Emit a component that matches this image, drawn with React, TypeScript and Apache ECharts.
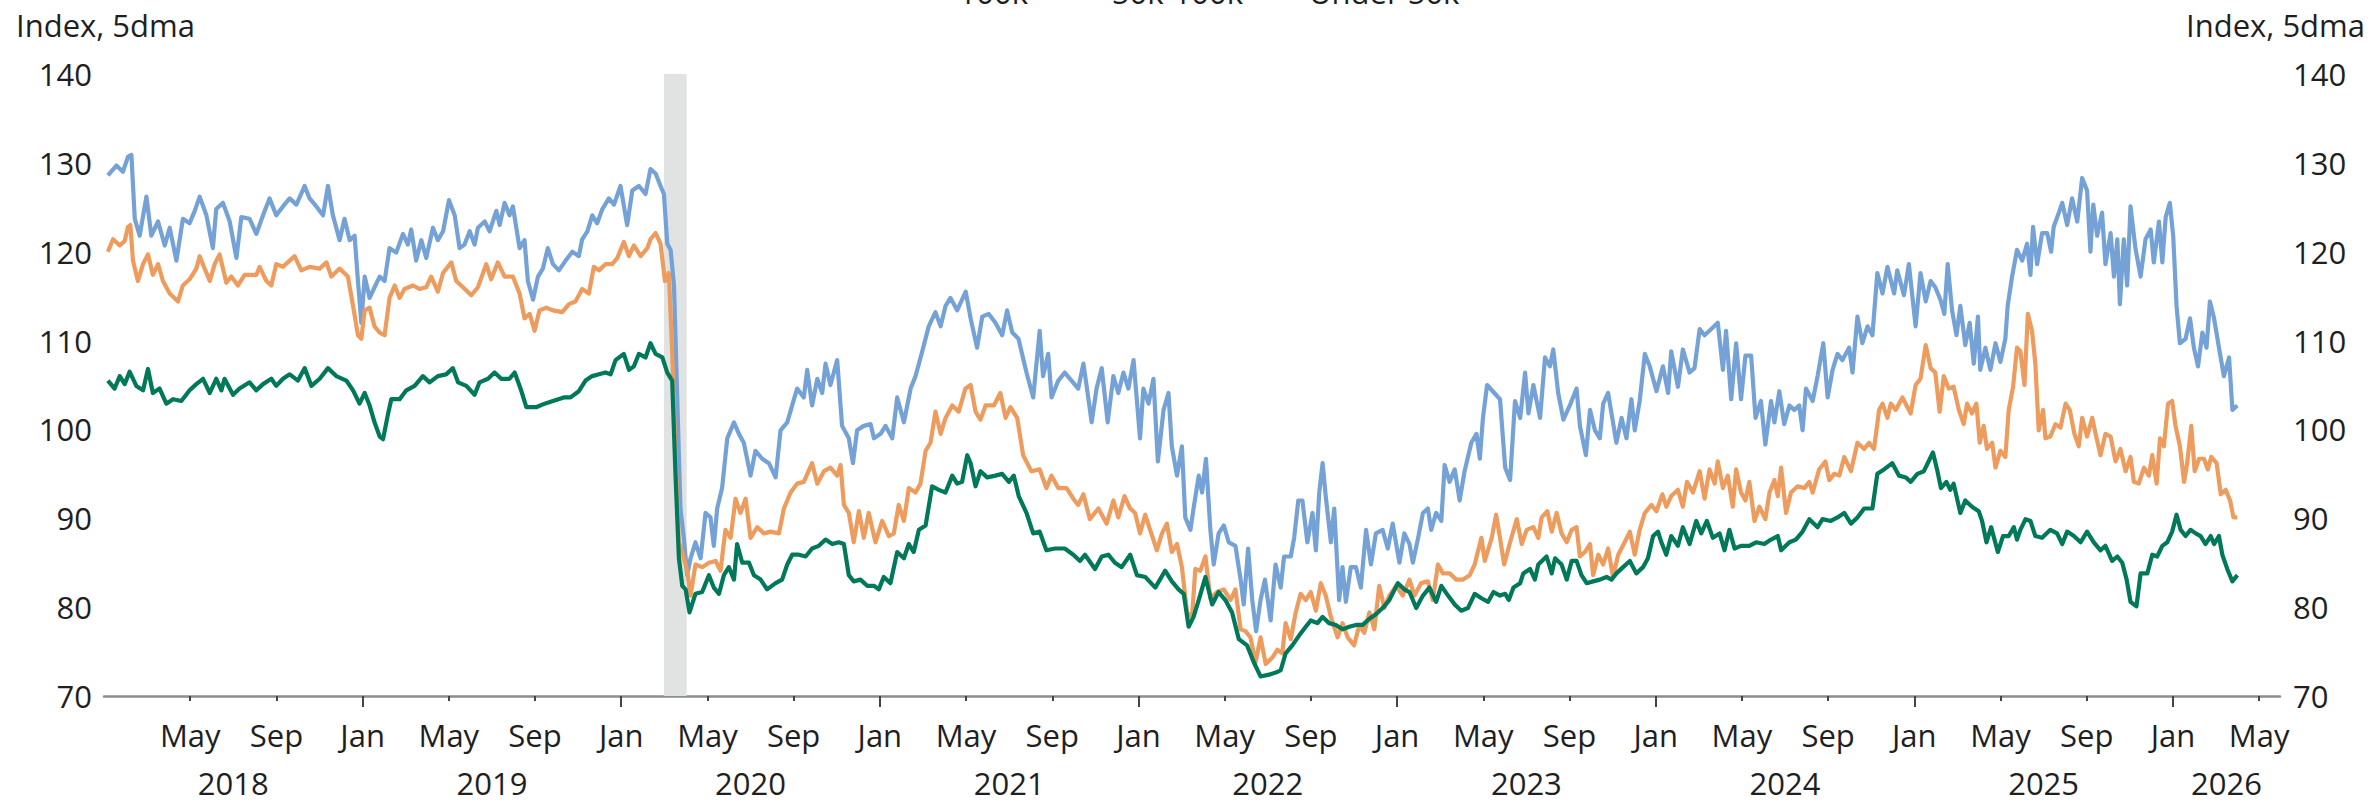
import React, { useEffect, useRef } from "react";
import * as echarts from "echarts";

// ---- axis ranges (decimal years on x) ----
const X_MIN = 2018;
const X_MAX = 2026.414;
const Y_MIN = 70;
const Y_MAX = 140;
const Y_STEP = 10;

const seriesNames = ["100k+", "50k-100k", "Under 50k"];
const seriesColors = ["#74A2D6", "#EE9B5E", "#00785A"];
const axisTitle = "Index, 5dma";
const recessionSpan = [2020.165, 2020.253];
const yearLabels = [2018, 2019, 2020, 2021, 2022, 2023, 2024, 2025, 2026];
const monthNames = ["Jan", "May", "Sep"];

// ---- series values: [decimal year, index] ----
const income100kPlus: [number, number][] = [
  [2018.015,128.6],[2018.048,129.7],[2018.073,129.0],[2018.093,130.7],[2018.106,130.9],[2018.119,123.7],[2018.138,121.8],[2018.164,126.2],[2018.183,121.8],[2018.209,123.4],[2018.235,120.7],[2018.254,122.7],[2018.280,119.0],[2018.305,123.7],[2018.331,123.2],[2018.351,124.6],[2018.370,126.2],[2018.396,124.1],[2018.421,120.4],[2018.434,124.8],[2018.460,125.5],[2018.486,123.4],[2018.512,119.3],[2018.531,123.9],[2018.563,123.7],[2018.589,122.0],[2018.615,124.1],[2018.640,126.0],[2018.666,124.1],[2018.692,125.1],[2018.718,126.0],[2018.744,125.3],[2018.776,127.4],[2018.795,126.0],[2018.821,125.1],[2018.847,124.1],[2018.866,127.4],[2018.885,124.1],[2018.911,121.3],[2018.930,123.7],[2018.950,121.3],[2018.969,121.8],[2018.982,116.7],[2018.995,112.0],
  [2019.008,117.2],[2019.027,114.8],[2019.046,116.0],[2019.066,117.2],[2019.085,116.7],[2019.104,120.4],[2019.130,119.9],[2019.156,122.0],[2019.175,120.8],[2019.188,122.5],[2019.207,119.0],[2019.227,121.3],[2019.246,119.3],[2019.272,122.7],[2019.291,121.3],[2019.311,122.3],[2019.334,125.8],[2019.356,124.1],[2019.375,120.4],[2019.394,120.8],[2019.414,122.3],[2019.433,120.8],[2019.446,122.7],[2019.472,123.4],[2019.491,122.3],[2019.517,124.6],[2019.530,123.0],[2019.549,125.5],[2019.568,124.1],[2019.581,125.1],[2019.607,120.4],[2019.626,121.3],[2019.639,116.7],[2019.659,114.6],[2019.678,117.2],[2019.697,118.1],[2019.716,120.4],[2019.736,118.6],
  [2019.759,117.9],[2019.785,119.0],[2019.811,120.0],[2019.836,119.5],[2019.849,121.4],[2019.869,122.3],[2019.888,124.1],[2019.907,123.2],[2019.927,124.8],[2019.952,126.0],[2019.972,125.3],[2019.997,127.4],
  [2020.023,123.0],[2020.043,126.9],[2020.068,127.4],[2020.094,126.5],[2020.113,129.3],[2020.133,128.8],[2020.152,127.4],[2020.165,126.5],[2020.178,120.9],[2020.191,120.2],[2020.204,116.2],[2020.216,104.1],[2020.229,91.1],[2020.242,87.8],[2020.255,83.6],[2020.268,85.5],[2020.287,87.3],[2020.307,85.5],[2020.326,90.6],[2020.345,90.1],[2020.358,86.9],[2020.371,91.1],[2020.390,93.4],[2020.410,99.0],[2020.436,100.8],[2020.455,99.5],[2020.474,98.5],[2020.500,94.8],[2020.519,97.6],[2020.545,96.7],[2020.571,96.2],[2020.597,94.6],[2020.616,99.9],[2020.642,100.8],[2020.661,102.7],[2020.680,104.6],[2020.706,103.6],[2020.719,106.7],[2020.738,102.7],[2020.758,105.7],[2020.777,104.1],[2020.790,107.4],[2020.809,105.0],[2020.835,107.8],[2020.854,100.4],[2020.880,99.0],[2020.896,96.2],[2020.912,99.9],[2020.938,100.4],[2020.964,100.6],[2020.977,99.0],
  [2021.003,99.5],[2021.022,100.4],[2021.048,99.0],[2021.067,103.6],[2021.093,100.8],[2021.119,104.6],[2021.138,106.0],[2021.164,108.8],[2021.189,111.6],[2021.215,113.2],[2021.235,111.6],[2021.254,113.9],[2021.273,114.8],[2021.299,113.4],[2021.332,115.5],[2021.351,112.5],[2021.376,109.2],[2021.396,112.7],[2021.421,113.0],[2021.447,112.0],[2021.473,110.6],[2021.492,113.4],[2021.512,110.9],[2021.536,110.2],[2021.567,106.4],[2021.593,103.6],[2021.618,111.1],[2021.631,106.0],[2021.651,108.5],[2021.664,103.6],[2021.690,105.5],[2021.715,106.4],[2021.741,105.5],[2021.767,104.6],[2021.787,107.4],[2021.799,105.0],[2021.819,100.8],[2021.838,104.6],[2021.858,106.9],[2021.881,100.8],[2021.903,106.0],[2021.922,104.1],[2021.942,106.4],[2021.961,104.6],[2021.981,107.8],
  [2022.006,99.0],[2022.019,104.6],[2022.039,102.9],[2022.058,105.7],[2022.075,96.4],[2022.097,102.2],[2022.116,104.1],[2022.129,98.1],[2022.149,94.8],[2022.168,98.1],[2022.181,90.1],[2022.201,88.7],[2022.213,91.1],[2022.233,94.8],[2022.246,92.9],[2022.261,96.7],[2022.278,88.7],[2022.291,84.8],[2022.310,88.3],[2022.330,89.2],[2022.349,87.3],[2022.375,86.9],[2022.395,83.1],[2022.407,80.3],[2022.424,86.6],[2022.440,80.8],[2022.455,77.3],[2022.472,80.8],[2022.489,83.1],[2022.511,78.5],[2022.530,84.8],[2022.550,82.2],[2022.563,85.7],[2022.589,85.7],[2022.602,87.8],[2022.618,92.0],[2022.634,92.0],[2022.653,87.3],[2022.673,90.6],[2022.686,86.4],[2022.699,92.9],[2022.712,96.2],[2022.724,92.5],[2022.744,87.3],[2022.757,91.1],[2022.776,80.8],[2022.789,84.5],[2022.802,80.6],[2022.821,84.5],[2022.841,84.5],[2022.860,82.2],[2022.880,88.7],[2022.899,84.8],[2022.918,88.3],[2022.944,88.7],[2022.964,86.6],[2022.983,89.4],
  [2023.009,85.0],[2023.028,88.3],[2023.048,87.1],[2023.061,85.0],[2023.080,87.6],[2023.100,90.6],[2023.119,91.1],[2023.132,88.7],[2023.151,90.6],[2023.171,89.7],[2023.184,96.0],[2023.203,94.1],[2023.223,95.5],[2023.242,92.0],[2023.261,95.3],[2023.287,98.5],[2023.307,99.5],[2023.320,96.7],[2023.332,101.3],[2023.348,105.0],[2023.398,103.4],[2023.418,95.7],[2023.437,94.3],[2023.456,103.2],[2023.476,101.3],[2023.495,106.4],[2023.508,101.8],[2023.527,105.0],[2023.553,101.3],[2023.572,108.1],[2023.591,107.1],[2023.604,109.0],[2023.623,104.1],[2023.643,101.1],[2023.668,102.7],[2023.694,104.6],[2023.707,100.4],[2023.730,97.1],[2023.746,102.2],[2023.765,99.9],[2023.784,99.0],[2023.797,102.9],[2023.816,104.1],[2023.848,98.5],[2023.868,101.3],[2023.887,99.0],[2023.906,103.4],[2023.919,99.9],[2023.938,103.2],[2023.958,108.5],[2023.977,107.1],
  [2024.003,104.3],[2024.028,107.1],[2024.048,104.1],[2024.060,108.8],[2024.086,104.8],[2024.105,109.0],[2024.131,106.4],[2024.150,106.9],[2024.170,111.3],[2024.189,110.6],[2024.215,111.3],[2024.240,112.0],[2024.260,106.7],[2024.272,111.1],[2024.292,103.4],[2024.311,109.7],[2024.330,103.4],[2024.347,108.3],[2024.369,108.3],[2024.386,101.3],[2024.407,103.2],[2024.424,98.3],[2024.446,103.2],[2024.459,100.8],[2024.478,104.3],[2024.497,100.6],[2024.517,102.7],[2024.536,102.2],[2024.555,102.7],[2024.568,99.9],[2024.581,104.6],[2024.607,103.2],[2024.626,106.0],[2024.648,109.7],[2024.665,103.6],[2024.684,106.7],[2024.703,108.5],[2024.722,107.8],[2024.748,109.2],[2024.761,106.4],[2024.780,112.7],[2024.799,109.7],[2024.819,111.6],[2024.838,110.6],[2024.857,117.6],[2024.877,115.3],[2024.896,118.3],[2024.922,115.3],[2024.934,117.9],[2024.960,115.1],[2024.979,118.6],
  [2025.005,111.6],[2025.024,117.6],[2025.044,114.4],[2025.063,116.7],[2025.081,116.0],[2025.101,114.6],[2025.116,113.0],[2025.129,118.6],[2025.146,113.4],[2025.163,110.6],[2025.178,113.9],[2025.197,109.5],[2025.214,112.0],[2025.230,107.4],[2025.246,112.7],[2025.255,106.7],[2025.275,109.2],[2025.294,106.7],[2025.314,109.7],[2025.333,107.6],[2025.352,110.2],[2025.361,113.9],[2025.378,117.2],[2025.397,120.2],[2025.417,119.0],[2025.436,120.9],[2025.449,117.4],[2025.459,122.8],[2025.475,118.6],[2025.494,122.1],[2025.514,122.1],[2025.529,120.0],[2025.539,122.8],[2025.559,124.4],[2025.572,125.5],[2025.591,123.0],[2025.610,126.0],[2025.630,123.4],[2025.649,128.3],[2025.668,126.9],[2025.681,120.0],[2025.692,125.3],[2025.707,121.8],[2025.726,124.4],[2025.739,118.6],[2025.759,122.1],[2025.772,117.2],[2025.785,121.4],[2025.795,114.1],[2025.810,121.4],[2025.823,116.2],[2025.836,125.1],[2025.855,120.4],[2025.875,117.2],[2025.894,121.4],[2025.914,122.5],[2025.926,118.8],[2025.946,123.4],[2025.959,118.8],[2025.972,123.9],[2025.988,125.5],
  [2026.001,121.8],[2026.014,113.9],[2026.027,109.7],[2026.049,110.2],[2026.066,112.5],[2026.081,109.2],[2026.097,107.1],[2026.114,110.9],[2026.130,109.2],[2026.143,114.4],[2026.159,112.5],[2026.178,109.2],[2026.197,106.0],[2026.217,108.1],[2026.230,102.2],[2026.249,102.7],
];

const income50kTo100k: [number, number][] = [
  [2018.015,120.0],[2018.035,121.4],[2018.061,120.7],[2018.080,121.2],[2018.093,122.8],[2018.102,123.0],[2018.112,119.0],[2018.131,116.7],[2018.151,118.6],[2018.170,119.7],[2018.189,117.4],[2018.209,118.6],[2018.228,116.7],[2018.254,115.3],[2018.286,114.4],[2018.305,116.2],[2018.331,116.9],[2018.357,118.1],[2018.370,119.5],[2018.389,118.1],[2018.409,116.7],[2018.428,118.6],[2018.447,119.7],[2018.473,116.5],[2018.492,117.2],[2018.518,116.2],[2018.544,117.4],[2018.589,117.4],[2018.602,118.3],[2018.628,116.7],[2018.647,116.2],[2018.666,118.6],[2018.692,118.3],[2018.718,119.0],[2018.737,119.5],[2018.763,117.9],[2018.795,118.3],[2018.834,118.1],[2018.860,118.8],[2018.879,117.2],[2018.911,118.1],[2018.943,117.2],[2018.963,113.9],[2018.982,110.6],[2018.995,110.2],
  [2019.008,113.4],[2019.027,113.7],[2019.046,111.6],[2019.066,110.9],[2019.085,110.6],[2019.104,114.8],[2019.124,116.2],[2019.143,114.8],[2019.162,115.8],[2019.195,116.2],[2019.220,115.8],[2019.246,116.0],[2019.265,117.2],[2019.291,115.5],[2019.311,117.6],[2019.343,118.8],[2019.362,116.7],[2019.388,116.0],[2019.420,115.1],[2019.446,116.0],[2019.478,118.6],[2019.497,116.9],[2019.523,118.8],[2019.549,117.2],[2019.581,117.2],[2019.607,115.3],[2019.626,112.5],[2019.646,113.0],[2019.665,111.1],[2019.684,113.4],[2019.710,113.7],[2019.736,113.4],
  [2019.772,113.2],[2019.798,114.1],[2019.823,114.4],[2019.849,115.8],[2019.875,115.3],[2019.894,118.3],[2019.914,117.9],[2019.939,118.6],[2019.965,118.6],[2019.985,119.3],
  [2020.010,121.1],[2020.030,119.5],[2020.049,120.7],[2020.075,119.5],[2020.101,120.4],[2020.113,121.4],[2020.133,122.1],[2020.152,120.9],[2020.169,116.7],[2020.184,117.6],[2020.197,108.8],[2020.210,97.1],[2020.223,87.3],[2020.236,86.2],[2020.255,84.1],[2020.268,81.3],[2020.287,84.8],[2020.313,84.5],[2020.339,85.0],[2020.365,85.2],[2020.384,84.1],[2020.403,88.7],[2020.423,87.8],[2020.442,92.2],[2020.461,90.6],[2020.481,92.2],[2020.500,87.8],[2020.526,89.0],[2020.552,88.3],[2020.577,88.5],[2020.610,88.3],[2020.629,91.1],[2020.655,92.9],[2020.680,93.9],[2020.706,94.1],[2020.738,96.2],[2020.758,93.9],[2020.784,95.3],[2020.809,95.7],[2020.835,94.8],[2020.848,96.0],[2020.861,91.5],[2020.880,90.6],[2020.899,87.3],[2020.919,90.8],[2020.938,87.8],[2020.957,90.6],[2020.983,87.3],
  [2021.009,89.7],[2021.035,88.0],[2021.054,88.3],[2021.073,91.5],[2021.093,89.7],[2021.112,93.4],[2021.138,92.9],[2021.157,93.9],[2021.177,97.6],[2021.196,98.5],[2021.215,102.0],[2021.235,99.5],[2021.254,101.3],[2021.280,102.7],[2021.305,102.0],[2021.331,104.6],[2021.351,105.0],[2021.370,102.0],[2021.389,101.1],[2021.409,102.7],[2021.441,102.7],[2021.466,104.1],[2021.486,101.3],[2021.505,102.5],[2021.531,101.3],[2021.554,97.1],[2021.586,95.3],[2021.618,95.5],[2021.644,93.4],[2021.664,94.8],[2021.690,93.4],[2021.722,93.4],[2021.748,92.2],[2021.767,91.5],[2021.787,92.7],[2021.812,89.9],[2021.845,91.1],[2021.877,89.4],[2021.903,92.0],[2021.922,90.1],[2021.946,92.5],[2021.968,91.1],[2021.987,90.6],
  [2022.006,88.3],[2022.026,90.4],[2022.045,88.7],[2022.071,86.4],[2022.091,88.3],[2022.110,89.4],[2022.129,86.2],[2022.149,87.1],[2022.168,84.5],[2022.188,79.4],[2022.207,78.9],[2022.220,84.3],[2022.239,84.1],[2022.259,85.7],[2022.278,81.0],[2022.304,81.7],[2022.330,82.0],[2022.356,80.8],[2022.375,82.0],[2022.395,77.5],[2022.414,77.3],[2022.433,76.6],[2022.453,73.8],[2022.472,76.6],[2022.492,73.6],[2022.517,74.3],[2022.537,75.2],[2022.556,74.8],[2022.569,78.2],[2022.589,76.4],[2022.608,79.4],[2022.627,81.5],[2022.647,80.8],[2022.666,81.7],[2022.686,79.6],[2022.705,82.7],[2022.724,81.3],[2022.744,78.9],[2022.770,76.6],[2022.789,78.2],[2022.809,76.6],[2022.834,75.7],[2022.854,78.0],[2022.873,77.1],[2022.893,79.4],[2022.912,77.5],[2022.931,82.4],[2022.951,79.9],[2022.970,81.3],[2022.996,82.4],
  [2023.022,81.3],[2023.048,83.1],[2023.067,81.3],[2023.093,82.7],[2023.119,82.9],[2023.138,80.8],[2023.158,84.8],[2023.177,83.8],[2023.203,83.8],[2023.229,83.1],[2023.255,83.1],[2023.281,83.6],[2023.300,84.8],[2023.326,87.8],[2023.339,85.2],[2023.366,87.8],[2023.383,90.4],[2023.398,87.8],[2023.414,84.8],[2023.437,87.3],[2023.463,89.9],[2023.482,87.1],[2023.501,88.7],[2023.527,89.0],[2023.546,87.8],[2023.559,90.1],[2023.581,90.8],[2023.598,88.5],[2023.617,90.6],[2023.636,88.3],[2023.656,87.3],[2023.675,88.7],[2023.694,89.0],[2023.707,85.7],[2023.726,86.2],[2023.746,87.1],[2023.758,83.6],[2023.778,85.9],[2023.797,84.8],[2023.816,86.6],[2023.835,83.4],[2023.855,85.9],[2023.880,87.3],[2023.900,88.5],[2023.919,85.9],[2023.938,88.7],[2023.958,90.6],[2023.983,91.5],
  [2024.003,90.8],[2024.026,92.7],[2024.041,91.3],[2024.060,92.5],[2024.086,93.2],[2024.105,91.3],[2024.121,94.1],[2024.144,92.9],[2024.170,95.3],[2024.189,92.2],[2024.208,95.5],[2024.228,93.9],[2024.240,96.4],[2024.260,93.4],[2024.279,94.8],[2024.298,91.3],[2024.311,95.5],[2024.330,92.9],[2024.347,92.0],[2024.362,94.1],[2024.382,89.7],[2024.401,91.3],[2024.424,89.9],[2024.440,92.9],[2024.459,94.3],[2024.472,92.5],[2024.485,95.7],[2024.504,90.6],[2024.523,92.9],[2024.549,93.6],[2024.575,93.4],[2024.594,94.1],[2024.607,92.9],[2024.632,95.5],[2024.656,96.4],[2024.671,94.3],[2024.690,95.0],[2024.710,94.8],[2024.729,96.9],[2024.755,95.3],[2024.780,98.5],[2024.806,97.8],[2024.825,98.5],[2024.844,97.8],[2024.864,102.2],[2024.877,102.9],[2024.896,101.3],[2024.909,102.9],[2024.928,102.2],[2024.954,103.6],[2024.986,101.8],
  [2025.005,105.0],[2025.024,105.7],[2025.044,109.5],[2025.063,106.9],[2025.081,106.4],[2025.098,102.0],[2025.114,106.0],[2025.133,104.6],[2025.152,104.8],[2025.172,102.2],[2025.191,100.6],[2025.204,102.9],[2025.223,101.8],[2025.240,102.9],[2025.253,98.5],[2025.268,100.4],[2025.281,97.8],[2025.301,98.5],[2025.314,95.7],[2025.333,97.6],[2025.352,96.9],[2025.365,102.2],[2025.382,104.8],[2025.397,109.2],[2025.410,108.8],[2025.426,105.0],[2025.439,113.0],[2025.455,111.1],[2025.468,107.4],[2025.481,99.9],[2025.498,102.2],[2025.507,99.0],[2025.526,99.2],[2025.546,100.6],[2025.565,100.2],[2025.585,102.9],[2025.601,102.2],[2025.619,99.5],[2025.636,98.1],[2025.649,101.3],[2025.668,99.2],[2025.688,101.3],[2025.701,99.5],[2025.720,97.1],[2025.739,99.5],[2025.759,99.2],[2025.778,96.4],[2025.797,97.8],[2025.817,95.3],[2025.836,96.9],[2025.849,94.1],[2025.868,93.9],[2025.888,95.7],[2025.907,94.8],[2025.920,97.1],[2025.937,93.9],[2025.950,99.0],[2025.965,98.1],[2025.981,102.9],[2025.997,103.2],
  [2026.010,100.4],[2026.027,98.1],[2026.043,94.1],[2026.055,96.2],[2026.071,100.4],[2026.084,95.3],[2026.101,96.7],[2026.120,96.7],[2026.135,95.5],[2026.148,96.9],[2026.169,96.2],[2026.185,92.7],[2026.204,93.2],[2026.221,92.0],[2026.234,90.1],[2026.249,90.1],
];

const incomeUnder50k: [number, number][] = [
  [2018.015,105.5],[2018.041,104.6],[2018.061,106.0],[2018.080,105.1],[2018.099,106.5],[2018.125,104.9],[2018.151,104.4],[2018.170,106.8],[2018.189,104.1],[2018.215,104.6],[2018.241,102.9],[2018.267,103.4],[2018.299,103.2],[2018.331,104.4],[2018.357,105.1],[2018.383,105.7],[2018.409,104.1],[2018.434,105.7],[2018.454,104.4],[2018.466,105.7],[2018.499,103.9],[2018.524,104.6],[2018.563,105.3],[2018.589,104.4],[2018.615,105.1],[2018.647,105.7],[2018.666,104.9],[2018.692,105.7],[2018.718,106.2],[2018.750,105.5],[2018.776,106.9],[2018.802,104.9],[2018.834,105.7],[2018.866,106.9],[2018.898,106.0],[2018.937,105.5],[2018.963,104.4],[2018.988,102.9],
  [2019.008,104.1],[2019.027,102.7],[2019.046,100.8],[2019.066,99.2],[2019.079,98.9],[2019.098,101.7],[2019.111,103.4],[2019.143,103.4],[2019.169,104.4],[2019.201,104.9],[2019.233,106.0],[2019.259,105.3],[2019.291,106.0],[2019.323,106.2],[2019.349,106.9],[2019.369,105.3],[2019.401,104.9],[2019.433,103.9],[2019.452,105.3],[2019.485,105.7],[2019.510,106.4],[2019.536,105.7],[2019.568,105.7],[2019.588,106.4],[2019.613,104.4],[2019.633,102.5],[2019.671,102.5],[2019.704,102.9],[2019.736,103.2],
  [2019.778,103.6],[2019.804,103.6],[2019.836,104.3],[2019.862,105.5],[2019.888,106.0],[2019.914,106.2],[2019.939,106.4],[2019.959,106.2],[2019.978,107.8],
  [2020.010,108.5],[2020.030,106.7],[2020.049,107.1],[2020.068,108.5],[2020.094,108.1],[2020.113,109.7],[2020.133,108.5],[2020.159,108.1],[2020.178,106.4],[2020.197,105.5],[2020.210,94.8],[2020.223,85.5],[2020.236,82.4],[2020.249,82.0],[2020.264,79.4],[2020.287,81.5],[2020.313,81.7],[2020.339,83.6],[2020.358,82.2],[2020.378,81.5],[2020.397,83.6],[2020.416,84.5],[2020.436,83.1],[2020.448,87.1],[2020.468,85.0],[2020.494,85.0],[2020.513,83.6],[2020.539,83.1],[2020.564,82.0],[2020.597,82.7],[2020.622,83.1],[2020.642,84.8],[2020.661,85.9],[2020.687,85.9],[2020.713,85.7],[2020.738,86.6],[2020.764,86.9],[2020.790,87.6],[2020.816,87.1],[2020.841,87.3],[2020.861,87.1],[2020.880,83.6],[2020.899,82.9],[2020.925,83.1],[2020.951,82.4],[2020.977,82.4],[2020.996,82.0],
  [2021.015,83.4],[2021.041,82.7],[2021.067,86.2],[2021.093,85.5],[2021.112,87.1],[2021.131,86.2],[2021.151,88.7],[2021.177,89.2],[2021.202,93.6],[2021.228,93.2],[2021.254,92.9],[2021.280,94.8],[2021.299,93.9],[2021.318,94.1],[2021.338,97.1],[2021.351,96.2],[2021.370,93.6],[2021.389,95.3],[2021.415,94.6],[2021.447,94.8],[2021.473,95.0],[2021.499,94.1],[2021.518,94.8],[2021.537,92.5],[2021.567,90.6],[2021.593,88.3],[2021.618,88.5],[2021.644,86.4],[2021.677,86.6],[2021.715,86.6],[2021.748,85.9],[2021.774,85.2],[2021.793,85.9],[2021.832,84.3],[2021.858,85.7],[2021.884,85.9],[2021.909,85.0],[2021.935,84.5],[2021.968,85.9],[2021.994,83.6],
  [2022.026,83.4],[2022.065,82.2],[2022.103,84.1],[2022.129,82.9],[2022.155,82.0],[2022.175,81.5],[2022.194,77.8],[2022.213,78.9],[2022.233,80.8],[2022.259,83.4],[2022.285,80.3],[2022.310,81.7],[2022.336,80.8],[2022.362,79.4],[2022.388,76.4],[2022.420,75.7],[2022.446,73.8],[2022.472,72.2],[2022.505,72.4],[2022.537,72.7],[2022.550,72.9],[2022.569,74.8],[2022.595,75.7],[2022.621,76.8],[2022.647,77.8],[2022.666,78.5],[2022.692,78.2],[2022.712,78.9],[2022.737,78.2],[2022.763,78.0],[2022.789,77.5],[2022.815,77.8],[2022.841,78.0],[2022.867,78.0],[2022.893,78.7],[2022.918,79.2],[2022.944,79.9],[2022.970,80.8],
  [2023.003,82.7],[2023.028,82.0],[2023.048,81.7],[2023.074,79.9],[2023.100,81.3],[2023.125,82.2],[2023.151,80.6],[2023.171,82.4],[2023.197,81.3],[2023.223,80.3],[2023.248,79.6],[2023.274,79.9],[2023.300,81.5],[2023.326,81.0],[2023.352,80.6],[2023.373,81.7],[2023.398,81.3],[2023.418,81.5],[2023.432,80.8],[2023.450,82.2],[2023.476,82.7],[2023.488,83.8],[2023.514,84.3],[2023.533,83.1],[2023.546,84.8],[2023.578,85.7],[2023.598,83.8],[2023.611,85.5],[2023.636,84.8],[2023.656,83.1],[2023.675,85.2],[2023.694,85.2],[2023.713,83.6],[2023.733,82.7],[2023.758,82.9],[2023.784,83.1],[2023.810,83.4],[2023.829,83.1],[2023.848,83.8],[2023.874,84.5],[2023.900,85.2],[2023.925,83.8],[2023.951,84.5],[2023.970,85.5],[2023.990,88.0],
  [2024.009,88.5],[2024.022,87.3],[2024.041,85.9],[2024.060,88.0],[2024.086,86.9],[2024.105,89.0],[2024.131,87.1],[2024.157,89.7],[2024.176,88.3],[2024.198,89.7],[2024.221,87.8],[2024.247,88.3],[2024.266,86.4],[2024.285,88.7],[2024.305,86.6],[2024.330,86.9],[2024.362,86.9],[2024.388,87.3],[2024.420,87.1],[2024.446,87.6],[2024.472,88.0],[2024.485,86.4],[2024.517,87.3],[2024.542,87.6],[2024.568,88.5],[2024.594,89.9],[2024.626,89.0],[2024.645,89.9],[2024.677,89.7],[2024.703,90.1],[2024.729,90.6],[2024.755,89.4],[2024.780,90.1],[2024.806,91.1],[2024.838,91.1],[2024.857,95.0],[2024.883,95.5],[2024.915,96.2],[2024.941,94.8],[2024.967,94.6],[2024.986,94.1],
  [2025.012,95.0],[2025.037,95.3],[2025.072,97.4],[2025.088,95.5],[2025.103,93.4],[2025.124,94.1],[2025.139,93.2],[2025.152,93.9],[2025.178,90.6],[2025.197,92.0],[2025.223,91.3],[2025.249,90.8],[2025.262,89.7],[2025.279,87.3],[2025.297,89.0],[2025.323,86.2],[2025.343,88.0],[2025.365,88.0],[2025.385,89.0],[2025.397,87.6],[2025.410,88.7],[2025.430,89.9],[2025.449,89.7],[2025.468,88.0],[2025.494,87.8],[2025.526,88.7],[2025.552,88.3],[2025.572,87.1],[2025.591,88.5],[2025.617,88.0],[2025.643,87.3],[2025.668,88.5],[2025.694,87.3],[2025.720,86.4],[2025.739,86.9],[2025.765,85.2],[2025.785,85.7],[2025.804,85.0],[2025.821,83.1],[2025.836,80.6],[2025.859,80.1],[2025.875,83.8],[2025.901,83.8],[2025.920,85.9],[2025.939,85.7],[2025.959,86.9],[2025.978,87.3],[2025.997,88.5],
  [2026.014,90.4],[2026.030,88.7],[2026.049,88.0],[2026.068,88.7],[2026.088,88.3],[2026.107,88.0],[2026.126,87.1],[2026.146,88.0],[2026.159,87.1],[2026.178,88.0],[2026.191,85.9],[2026.210,84.3],[2026.230,82.9],[2026.249,83.6],
];

const seriesData = [income100kPlus, income50kTo100k, incomeUnder50k];

export default function App() {
  const ref = useRef<HTMLDivElement>(null);

  useEffect(() => {
    if (!ref.current) return;
    const chart = echarts.init(ref.current, null, { renderer: "svg" });
    const font = "'Open Sans', 'Noto Sans', sans-serif";
    const textColor = "#1f1f1f";
    const fontSize = 31;

    const janTicks = yearLabels.filter((y) => y > X_MIN && y <= X_MAX);
    const midTicks = yearLabels
      .flatMap((y) => [y + 1 / 3, y + 2 / 3])
      .filter((v) => v <= X_MAX);
    const monthLabelValues = [...janTicks, ...midTicks].sort((a, b) => a - b);
    const yearLabelValues = yearLabels.map(
      (y) => (Math.max(y, X_MIN) + Math.min(y + 1, X_MAX)) / 2
    );

    const monthFormatter = (v: number) => {
      const f = v - Math.floor(v + 1e-6);
      return monthNames[Math.round(f * 3) % 3];
    };
    const yearFormatter = (v: number) => String(Math.floor(v));

    const baseX = {
      type: "value" as const,
      min: X_MIN,
      max: X_MAX,
      position: "bottom" as const,
      gridIndex: 0,
      splitLine: { show: false },
    };

    const yAxisBase = {
      type: "value" as const,
      min: Y_MIN,
      max: Y_MAX,
      interval: Y_STEP,
      axisLine: { show: false },
      axisTick: { show: false },
      splitLine: { show: false },
    };

    chart.setOption({
      animation: false,
      backgroundColor: "#ffffff",
      textStyle: { fontFamily: font },
      grid: { left: 104, right: 94, top: 74, bottom: 106, containLabel: false },
      legend: {
        data: seriesNames,
        left: "center",
        top: -24,
        padding: 0,
        itemWidth: 38,
        itemHeight: 14,
        itemGap: 22,
        textStyle: { fontSize, color: textColor, fontFamily: font, lineHeight: 32 },
      },
      graphic: [
        {
          type: "text",
          x: 16,
          y: 25,
          style: { text: axisTitle, fontSize, fontFamily: font, fill: textColor, align: "left", verticalAlign: "middle" },
        },
        {
          type: "text",
          x: 2365,
          y: 25,
          style: { text: axisTitle, fontSize, fontFamily: font, fill: textColor, align: "right", verticalAlign: "middle" },
        },
      ],
      xAxis: [
        {
          ...baseX,
          axisLine: { show: true, lineStyle: { color: "#8c8c8c", width: 2.5 } },
          axisTick: { show: true, customValues: janTicks, length: 11, lineStyle: { color: "#444", width: 2 } },
          axisLabel: {
            customValues: monthLabelValues,
            formatter: monthFormatter,
            fontSize,
            fontFamily: font,
            color: textColor,
            lineHeight: 31,
            margin: 23,
          },
        },
        {
          ...baseX,
          axisLine: { show: false },
          axisTick: { show: true, customValues: midTicks, length: 5, lineStyle: { color: "#444", width: 2 } },
          axisLabel: { show: false },
        },
        {
          ...baseX,
          axisLine: { show: false },
          axisTick: { show: false },
          axisLabel: {
            customValues: yearLabelValues,
            formatter: yearFormatter,
            fontSize,
            fontFamily: font,
            color: textColor,
            lineHeight: 31,
            margin: 71,
          },
        },
      ],
      yAxis: [
        {
          ...yAxisBase,
          position: "left",
          axisLabel: { fontSize, fontFamily: font, color: textColor, margin: 12 },
        },
        {
          ...yAxisBase,
          position: "right",
          axisLabel: { fontSize, fontFamily: font, color: textColor, margin: 13 },
        },
      ],
      series: [
        {
          name: "recession",
          type: "line",
          xAxisIndex: 0,
          yAxisIndex: 0,
          data: [[recessionSpan[0], Y_MIN]],
          symbol: "none",
          lineStyle: { width: 0 },
          silent: true,
          z: 0,
          markArea: {
            silent: true,
            itemStyle: { color: "#E1E3E2" },
            data: [[{ xAxis: recessionSpan[0] }, { xAxis: recessionSpan[1] }]],
          },
        },
        ...seriesNames.map((name, i) => ({
          name,
          type: "line",
          xAxisIndex: 0,
          yAxisIndex: 0,
          data: seriesData[i],
          symbol: "none",
          showSymbol: false,
          z: 2 + i,
          lineStyle: { color: seriesColors[i], width: 4.2, join: "round" },
          itemStyle: { color: seriesColors[i] },
        })),
      ],
    });

    return () => chart.dispose();
  }, []);

  return (
    <div
      ref={ref}
      style={{ position: "fixed", left: 0, top: 0, width: 2374, height: 802, background: "#fff" }}
    />
  );
}
